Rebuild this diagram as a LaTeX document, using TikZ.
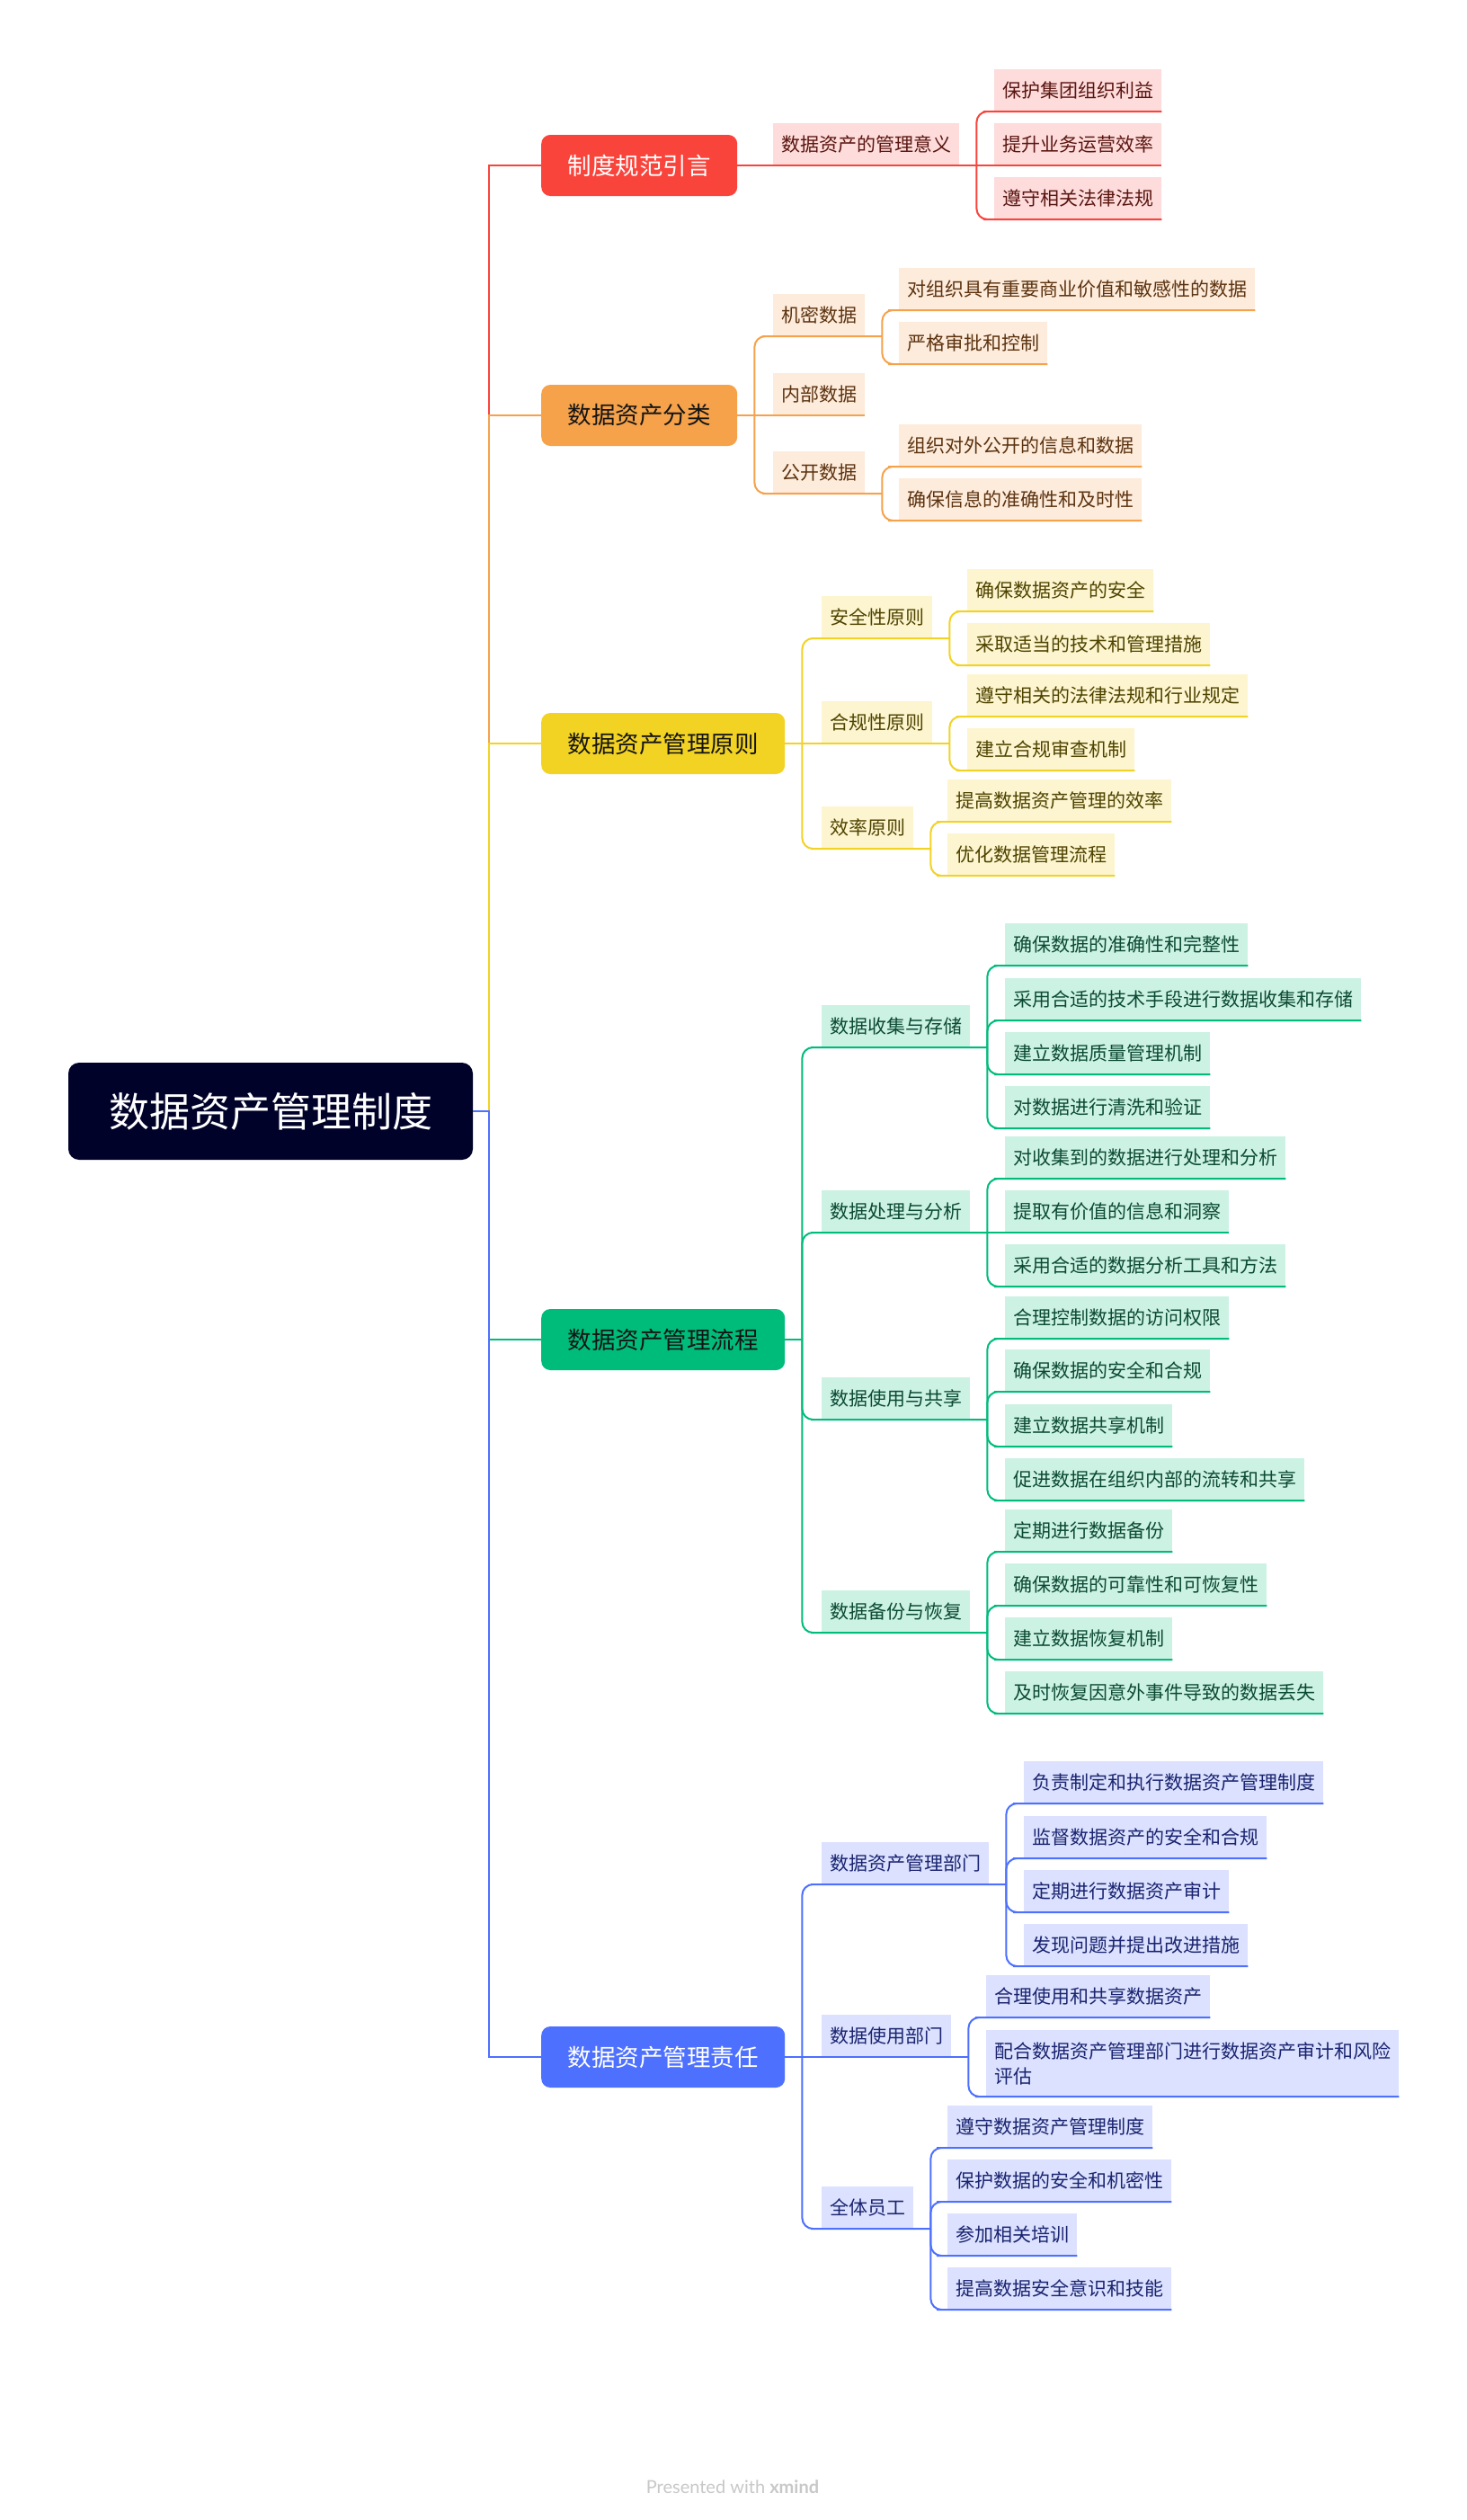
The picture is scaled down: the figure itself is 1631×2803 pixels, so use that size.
\documentclass[tikz,border=0pt]{standalone}
\usepackage{fontspec}
\setmainfont{Noto Sans CJK SC}
\newfontfamily\markfont{Lato}
\usepackage{xcolor}
\usetikzlibrary{positioning,calc}
\definecolor{mmRoot}{HTML}{000229}
\definecolor{mmTopicInk}{HTML}{141414}
\definecolor{mmRed}{HTML}{F9443C}
\definecolor{mmRedBg}{HTML}{FDDCDB}
\definecolor{mmRedInk}{HTML}{5A1510}
\definecolor{mmOrange}{HTML}{F5A24B}
\definecolor{mmOrangeBg}{HTML}{FDEBDB}
\definecolor{mmOrangeInk}{HTML}{5C3310}
\definecolor{mmYellow}{HTML}{F2D324}
\definecolor{mmYellowBg}{HTML}{FCF5CF}
\definecolor{mmYellowInk}{HTML}{4F4300}
\definecolor{mmGreen}{HTML}{00BC7B}
\definecolor{mmGreenBg}{HTML}{CCF2E4}
\definecolor{mmGreenInk}{HTML}{0B4A33}
\definecolor{mmBlue}{HTML}{4D70FF}
\definecolor{mmBlueBg}{HTML}{DBE1FE}
\definecolor{mmBlueInk}{HTML}{1A2470}
\definecolor{mmMark}{HTML}{C8C8C8}
\tikzset{
  rootbox/.style={rectangle,rounded corners=12pt,
    minimum width=450pt,minimum height=108pt,
    fill=mmRoot,text=white,font=\fontsize{45}{54}\selectfont},
  topicbox/.style={rectangle,rounded corners=10pt,anchor=west,
    inner xsep=29.5pt,minimum height=68pt,
    font=\fontsize{26.5}{32}\selectfont},
  subbox/.style={rectangle,anchor=south west,
    inner xsep=9pt,inner ysep=13pt,minimum height=47pt,
    font=\fontsize{21}{28}\selectfont},
  redbox/.style={subbox,fill=mmRedBg,text=mmRedInk},
  orangebox/.style={subbox,fill=mmOrangeBg,text=mmOrangeInk},
  yellowbox/.style={subbox,fill=mmYellowBg,text=mmYellowInk},
  greenbox/.style={subbox,fill=mmGreenBg,text=mmGreenInk},
  bluebox/.style={subbox,fill=mmBlueBg,text=mmBlueInk},
  redln/.style={draw=mmRed,line width=2pt},
  orangeln/.style={draw=mmOrange,line width=2pt},
  yellowln/.style={draw=mmYellow,line width=2pt},
  greenln/.style={draw=mmGreen,line width=2pt},
  blueln/.style={draw=mmBlue,line width=2pt},
  elbow/.style={rounded corners=12pt},
}
\begin{document}
\begin{tikzpicture}[x=1pt,y=-1pt]
  \fill[white] (0,0) rectangle (1631,2803);
  \useasboundingbox (0,0) rectangle (1631,2803);

  \node[rootbox] (root) at (301,1236) {数据资产管理制度};
  \coordinate (rootsp) at (544,1236);

  \node[topicbox,fill=mmRed,text=white] (intro) at (602,184) {制度规范引言};
  \node[topicbox,fill=mmOrange,text=mmTopicInk] (cls) at (602,462) {数据资产分类};
  \node[topicbox,fill=mmYellow,text=mmTopicInk] (prin) at (602,827) {数据资产管理原则};
  \node[topicbox,fill=mmGreen,text=mmTopicInk] (flow) at (602,1490) {数据资产管理流程};
  \node[topicbox,fill=mmBlue,text=white] (duty) at (602,2288) {数据资产管理责任};
  \foreach \t in {intro,cls,prin,flow,duty}
    \coordinate[right=19pt of \t] (\t sp);

  \node[redbox] (sig) at (860,184) {数据资产的管理意义};
  \node[redbox] (sig1) at (1106,124) {保护集团组织利益};
  \node[redbox] (sig2) at (1106,184) {提升业务运营效率};
  \node[redbox] (sig3) at (1106,244) {遵守相关法律法规};

  \node[orangebox] (secret) at (860,374) {机密数据};
  \node[orangebox] (inner) at (860,462) {内部数据};
  \node[orangebox] (public) at (860,549) {公开数据};
  \node[orangebox] (secret1) at (1000,345) {对组织具有重要商业价值和敏感性的数据};
  \node[orangebox] (secret2) at (1000,405) {严格审批和控制};
  \node[orangebox] (public1) at (1000,519) {组织对外公开的信息和数据};
  \node[orangebox] (public2) at (1000,579) {确保信息的准确性和及时性};

  \node[yellowbox] (safe) at (914,710) {安全性原则};
  \node[yellowbox] (comply) at (914,827) {合规性原则};
  \node[yellowbox] (effic) at (914,944) {效率原则};
  \node[yellowbox] (safe1) at (1076,680) {确保数据资产的安全};
  \node[yellowbox] (safe2) at (1076,740) {采取适当的技术和管理措施};
  \node[yellowbox] (comply1) at (1076,797) {遵守相关的法律法规和行业规定};
  \node[yellowbox] (comply2) at (1076,857) {建立合规审查机制};
  \node[yellowbox] (effic1) at (1054,914) {提高数据资产管理的效率};
  \node[yellowbox] (effic2) at (1054,974) {优化数据管理流程};

  \node[greenbox] (collect) at (914,1165) {数据收集与存储};
  \node[greenbox] (process) at (914,1371) {数据处理与分析};
  \node[greenbox] (share) at (914,1579) {数据使用与共享};
  \node[greenbox] (backup) at (914,1816) {数据备份与恢复};
  \node[greenbox] (collect1) at (1118,1074) {确保数据的准确性和完整性};
  \node[greenbox] (collect2) at (1118,1135) {采用合适的技术手段进行数据收集和存储};
  \node[greenbox] (collect3) at (1118,1195) {建立数据质量管理机制};
  \node[greenbox] (collect4) at (1118,1255) {对数据进行清洗和验证};
  \node[greenbox] (process1) at (1118,1311) {对收集到的数据进行处理和分析};
  \node[greenbox] (process2) at (1118,1371) {提取有价值的信息和洞察};
  \node[greenbox] (process3) at (1118,1431) {采用合适的数据分析工具和方法};
  \node[greenbox] (share1) at (1118,1489) {合理控制数据的访问权限};
  \node[greenbox] (share2) at (1118,1548) {确保数据的安全和合规};
  \node[greenbox] (share3) at (1118,1609) {建立数据共享机制};
  \node[greenbox] (share4) at (1118,1669) {促进数据在组织内部的流转和共享};
  \node[greenbox] (backup1) at (1118,1726) {定期进行数据备份};
  \node[greenbox] (backup2) at (1118,1786) {确保数据的可靠性和可恢复性};
  \node[greenbox] (backup3) at (1118,1846) {建立数据恢复机制};
  \node[greenbox] (backup4) at (1118,1906) {及时恢复因意外事件导致的数据丢失};

  \node[bluebox] (dept) at (914,2096) {数据资产管理部门};
  \node[bluebox] (users) at (914,2288) {数据使用部门};
  \node[bluebox] (staff) at (914,2479) {全体员工};
  \node[bluebox] (dept1) at (1139,2006) {负责制定和执行数据资产管理制度};
  \node[bluebox] (dept2) at (1139,2067) {监督数据资产的安全和合规};
  \node[bluebox] (dept3) at (1139,2127) {定期进行数据资产审计};
  \node[bluebox] (dept4) at (1139,2187) {发现问题并提出改进措施};
  \node[bluebox] (users1) at (1097,2244) {合理使用和共享数据资产};
  \node[bluebox,text width=441pt,align=left] (users2) at (1097,2332)
    {配合数据资产管理部门进行数据资产审计和风险\\评估};
  \node[bluebox] (staff1) at (1054,2389) {遵守数据资产管理制度};
  \node[bluebox] (staff2) at (1054,2449) {保护数据的安全和机密性};
  \node[bluebox] (staff3) at (1054,2509) {参加相关培训};
  \node[bluebox] (staff4) at (1054,2569) {提高数据安全意识和技能};

  \foreach \s in {sig,secret,public,safe,comply,effic,collect,process,share,backup,dept,users,staff}
    \coordinate[right=19pt of \s.south east] (\s sp);

  \draw[redln] (root.east) -- (rootsp) |- (intro.west);
  \draw[orangeln] (root.east) -- (rootsp) |- (cls.west);
  \draw[yellowln] (root.east) -- (rootsp) |- (prin.west);
  \draw[greenln] (root.east) -- (rootsp) |- (flow.west);
  \draw[blueln] (root.east) -- (rootsp) |- (duty.west);

  \draw[redln] (intro.east) -- (introsp) -- (sig.south west) -- (sig.south east) -- (sigsp);
  \draw[redln] (sigsp) -- (sig2.south west) -- (sig2.south east);
  \foreach \n in {sig1,sig3}
    \draw[redln,elbow] (sigsp) |- (\n.south west) -- (\n.south east);

  \draw[orangeln] (cls.east) -- (clssp) -- (inner.south west) -- (inner.south east);
  \foreach \n in {secret,public}
    \draw[orangeln,elbow] (clssp) |- (\n.south west) -- (\n.south east) -- (\n sp);
  \foreach \n in {secret1,secret2}
    \draw[orangeln,elbow] (secretsp) |- (\n.south west) -- (\n.south east);
  \foreach \n in {public1,public2}
    \draw[orangeln,elbow] (publicsp) |- (\n.south west) -- (\n.south east);

  \draw[yellowln] (prin.east) -- (prinsp) -- (comply.south west) -- (comply.south east) -- (complysp);
  \foreach \n in {safe,effic}
    \draw[yellowln,elbow] (prinsp) |- (\n.south west) -- (\n.south east) -- (\n sp);
  \foreach \p/\n in {safe/safe1,safe/safe2,comply/comply1,comply/comply2,effic/effic1,effic/effic2}
    \draw[yellowln,elbow] (\p sp) |- (\n.south west) -- (\n.south east);

  \draw[greenln] (flow.east) -- (flowsp);
  \foreach \n in {collect,process,share,backup}
    \draw[greenln,elbow] (flowsp) |- (\n.south west) -- (\n.south east) -- (\n sp);
  \draw[greenln] (processsp) -- (process2.south west) -- (process2.south east);
  \foreach \p/\n in {collect/collect1,collect/collect2,collect/collect3,collect/collect4,
      process/process1,process/process3,share/share1,share/share2,share/share3,share/share4,
      backup/backup1,backup/backup2,backup/backup3,backup/backup4}
    \draw[greenln,elbow] (\p sp) |- (\n.south west) -- (\n.south east);

  \draw[blueln] (duty.east) -- (dutysp) -- (users.south west) -- (users.south east) -- (userssp);
  \foreach \n in {dept,staff}
    \draw[blueln,elbow] (dutysp) |- (\n.south west) -- (\n.south east) -- (\n sp);
  \foreach \p/\n in {dept/dept1,dept/dept2,dept/dept3,dept/dept4,users/users1,users/users2,
      staff/staff1,staff/staff2,staff/staff3,staff/staff4}
    \draw[blueln,elbow] (\p sp) |- (\n.south west) -- (\n.south east);

  \node[font=\markfont\fontsize{20}{24}\selectfont,text=mmMark] (credit) at (815,2766)
    {Presented with \textbf{xmind}};
\end{tikzpicture}
\end{document}
